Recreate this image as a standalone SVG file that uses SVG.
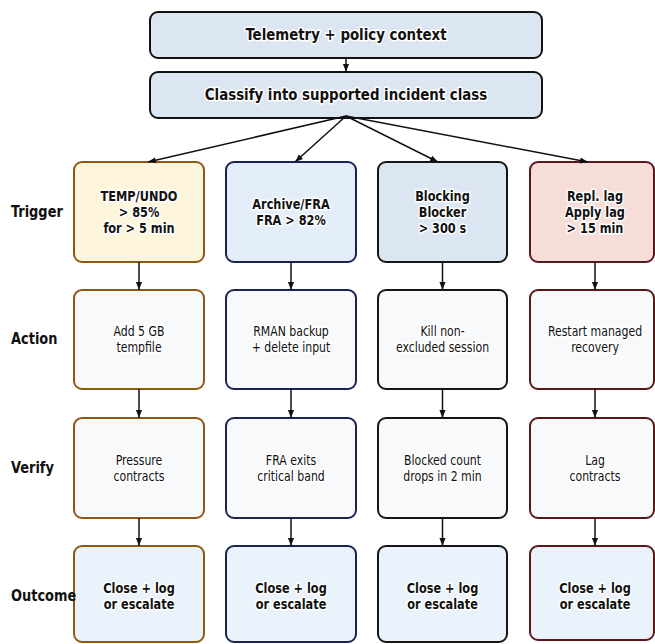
<svg xmlns="http://www.w3.org/2000/svg" width="655" height="644" viewBox="0 0 655 644">
<defs>
<marker id="ah" viewBox="0 0 10 10" refX="10" refY="5" markerWidth="8" markerHeight="8" markerUnits="userSpaceOnUse" orient="auto"><path d="M0,1.2 L10,5 L0,8.8 z" fill="#111"/></marker>
<style>
text{font-family:"DejaVu Sans Condensed","DejaVu Sans",sans-serif;text-anchor:middle;fill:#111;stroke:#fff;stroke-width:3;paint-order:stroke;stroke-linejoin:round}
.b{font-weight:bold;font-size:14px}
.n{font-size:13.5px}
.h{font-weight:bold;font-size:16.5px}
.lab{font-weight:bold;font-size:16px;text-anchor:start;stroke:none}
rect{stroke-width:2}
.top{fill:#dce6f2;stroke:#111}
.c1{stroke:#8e5a12}.c2{stroke:#1a2352}.c3{stroke:#161616}.c4{stroke:#5a1818}
.t1{fill:#fdf6dc}.t2{fill:#e3eefa}.t3{fill:#dce6f2}.t4{fill:#f7ddd7}
.av{fill:#f8f9fb}.oc{fill:#eaf2fb}
.con line{stroke:#111;stroke-width:1.5;marker-end:url(#ah)}
</style>
</defs>
<g id="n-telemetry"><rect class="top" x="150" y="12" width="392" height="46" rx="8"/><g transform="translate(346,0) scale(0.9,1)"><text class="h" x="0" y="40">Telemetry + policy context</text></g></g>
<g id="n-classify"><rect class="top" x="150" y="72" width="392" height="46" rx="8"/><g transform="translate(346,0) scale(0.9,1)"><text class="h" x="0" y="100">Classify into supported incident class</text></g></g>

<g id="n-trig1"><rect class="c1 t1" x="74" y="162" width="130" height="100" rx="8"/><g transform="translate(139,0) scale(0.9,1)"><text class="b" x="0" y="201">TEMP/UNDO</text><text class="b" x="0" y="217">&gt; 85%</text><text class="b" x="0" y="233">for &gt; 5 min</text></g></g>
<g id="n-trig2"><rect class="c2 t2" x="226" y="162" width="130" height="100" rx="8"/><g transform="translate(291,0) scale(0.9,1)"><text class="b" x="0" y="209">Archive/FRA</text><text class="b" x="0" y="225">FRA &gt; 82%</text></g></g>
<g id="n-trig3"><rect class="c3 t3" x="378" y="162" width="129" height="100" rx="8"/><g transform="translate(442.5,0) scale(0.9,1)"><text class="b" x="0" y="201">Blocking</text><text class="b" x="0" y="217">Blocker</text><text class="b" x="0" y="233">&gt; 300 s</text></g></g>
<g id="n-trig4"><rect class="c4 t4" x="530" y="162" width="124" height="100" rx="8"/><g transform="translate(595,0) scale(0.9,1)"><text class="b" x="0" y="201">Repl. lag</text><text class="b" x="0" y="217">Apply lag</text><text class="b" x="0" y="233">&gt; 15 min</text></g></g>

<g id="n-act1"><rect class="c1 av" x="74" y="290" width="130" height="99" rx="8"/><g transform="translate(139,0) scale(0.9,1)"><text class="n" x="0" y="336">Add 5 GB</text><text class="n" x="0" y="352">tempfile</text></g></g>
<g id="n-act2"><rect class="c2 av" x="226" y="290" width="130" height="99" rx="8"/><g transform="translate(291,0) scale(0.9,1)"><text class="n" x="0" y="336">RMAN backup</text><text class="n" x="0" y="352">+ delete input</text></g></g>
<g id="n-act3"><rect class="c3 av" x="378" y="290" width="129" height="99" rx="8"/><g transform="translate(442.5,0) scale(0.9,1)"><text class="n" x="0" y="336">Kill non-</text><text class="n" x="0" y="352">excluded session</text></g></g>
<g id="n-act4"><rect class="c4 av" x="530" y="290" width="124" height="99" rx="8"/><g transform="translate(595,0) scale(0.9,1)"><text class="n" x="0" y="336">Restart managed</text><text class="n" x="0" y="352">recovery</text></g></g>

<g id="n-ver1"><rect class="c1 av" x="74" y="418" width="130" height="100" rx="8"/><g transform="translate(139,0) scale(0.9,1)"><text class="n" x="0" y="465">Pressure</text><text class="n" x="0" y="481">contracts</text></g></g>
<g id="n-ver2"><rect class="c2 av" x="226" y="418" width="130" height="100" rx="8"/><g transform="translate(291,0) scale(0.9,1)"><text class="n" x="0" y="465">FRA exits</text><text class="n" x="0" y="481">critical band</text></g></g>
<g id="n-ver3"><rect class="c3 av" x="378" y="418" width="129" height="100" rx="8"/><g transform="translate(442.5,0) scale(0.9,1)"><text class="n" x="0" y="465">Blocked count</text><text class="n" x="0" y="481">drops in 2 min</text></g></g>
<g id="n-ver4"><rect class="c4 av" x="530" y="418" width="124" height="100" rx="8"/><g transform="translate(595,0) scale(0.9,1)"><text class="n" x="0" y="465">Lag</text><text class="n" x="0" y="481">contracts</text></g></g>

<g id="n-out1"><rect class="c1 oc" x="74" y="546" width="130" height="96" rx="8"/><g transform="translate(139,0) scale(0.9,1)"><text class="b" x="0" y="593">Close + log</text><text class="b" x="0" y="609">or escalate</text></g></g>
<g id="n-out2"><rect class="c2 oc" x="226" y="546" width="130" height="96" rx="8"/><g transform="translate(291,0) scale(0.9,1)"><text class="b" x="0" y="593">Close + log</text><text class="b" x="0" y="609">or escalate</text></g></g>
<g id="n-out3"><rect class="c3 oc" x="378" y="546" width="129" height="96" rx="8"/><g transform="translate(442.5,0) scale(0.9,1)"><text class="b" x="0" y="593">Close + log</text><text class="b" x="0" y="609">or escalate</text></g></g>
<g id="n-out4"><rect class="c4 oc" x="530" y="546" width="124" height="94" rx="8"/><g transform="translate(595,0) scale(0.9,1)"><text class="b" x="0" y="593">Close + log</text><text class="b" x="0" y="609">or escalate</text></g></g>

<g id="labels">
<g transform="translate(11,0) scale(0.9,1)"><text class="lab" x="0" y="217">Trigger</text></g>
<g transform="translate(11,0) scale(0.9,1)"><text class="lab" x="0" y="344">Action</text></g>
<g transform="translate(11,0) scale(0.9,1)"><text class="lab" x="0" y="473">Verify</text></g>
<g transform="translate(11,0) scale(0.9,1)"><text class="lab" x="0" y="601">Outcome</text></g>
</g>

<g id="connectors" class="con">
<line x1="346" y1="58" x2="346" y2="72"/>
<line x1="346" y1="116" x2="148" y2="162"/>
<line x1="346" y1="116" x2="295" y2="162"/>
<line x1="346" y1="116" x2="438" y2="162"/>
<line x1="346" y1="116" x2="588" y2="162"/>
<line x1="139" y1="262" x2="139" y2="290"/>
<line x1="291" y1="262" x2="291" y2="290"/>
<line x1="442.5" y1="262" x2="442.5" y2="290"/>
<line x1="595" y1="262" x2="595" y2="290"/>
<line x1="139" y1="389" x2="139" y2="418"/>
<line x1="291" y1="389" x2="291" y2="418"/>
<line x1="442.5" y1="389" x2="442.5" y2="418"/>
<line x1="595" y1="389" x2="595" y2="418"/>
<line x1="139" y1="518" x2="139" y2="546"/>
<line x1="291" y1="518" x2="291" y2="546"/>
<line x1="442.5" y1="518" x2="442.5" y2="546"/>
<line x1="595" y1="518" x2="595" y2="546"/>
</g>
</svg>
